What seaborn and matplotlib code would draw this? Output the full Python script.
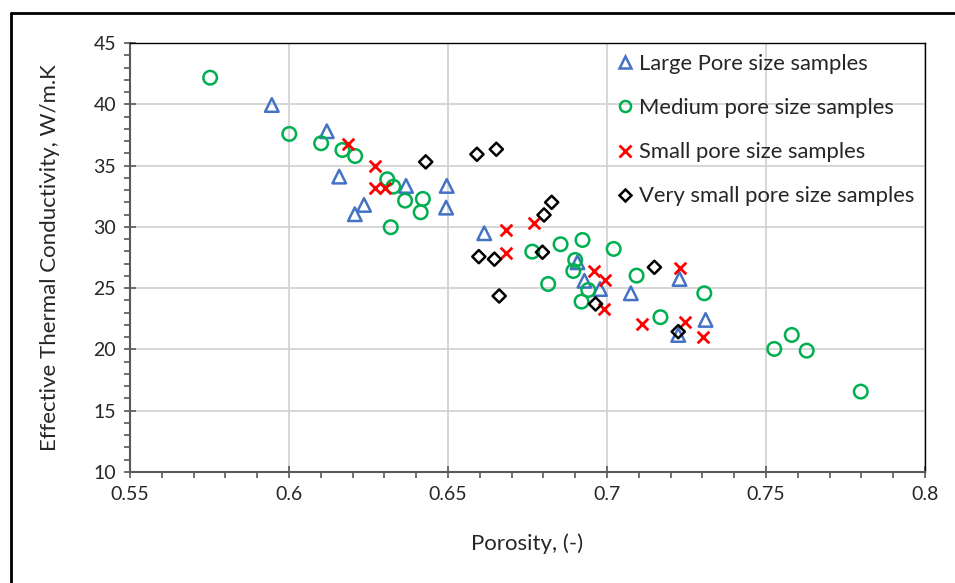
import matplotlib
matplotlib.use("Agg")
import matplotlib.pyplot as plt
import seaborn as sns
import pandas as pd
from matplotlib.lines import Line2D
from matplotlib.ticker import MultipleLocator

#### data
large_x = [0.5946, 0.6119, 0.6158, 0.6368, 0.6236, 0.6207, 0.6496, 0.6494, 0.6614, 0.6907,
           0.6929, 0.6978, 0.7228, 0.7075, 0.7310, 0.7224]
large_y = [39.94, 37.8, 34.1, 33.34, 31.79, 31.03, 33.34, 31.57, 29.48, 27.11,
           25.6, 24.93, 25.75, 24.58, 22.41, 21.18]

medium_x = [0.5752, 0.6001, 0.6101, 0.6168, 0.6208, 0.6309, 0.6328, 0.6365, 0.6421, 0.6414,
            0.6320, 0.6765, 0.6854, 0.6923, 0.7021, 0.6900, 0.6894, 0.6941, 0.6815, 0.6920,
            0.7093, 0.7306, 0.7168, 0.7526, 0.7581, 0.7628, 0.7798]
medium_y = [42.17, 37.58, 36.82, 36.27, 35.78, 33.88, 33.28, 32.14, 32.28, 31.19,
            29.97, 27.98, 28.58, 28.93, 28.2, 27.3, 26.4, 24.85, 25.34, 23.9,
            26.02, 24.58, 22.63, 20.04, 21.18, 19.9, 16.56]

small_x = [0.6186, 0.6271, 0.6271, 0.6302, 0.6771, 0.6683, 0.6683, 0.6959, 0.6993, 0.6991,
           0.7228, 0.7109, 0.7245, 0.7303]
small_y = [36.74, 34.97, 33.2, 33.15, 30.34, 29.75, 27.9, 26.43, 25.67, 23.3,
           26.62, 22.05, 22.27, 21.05]

vsmall_x = [0.6430, 0.6591, 0.6652, 0.6826, 0.6802, 0.6597, 0.6646, 0.6797, 0.6661, 0.6964,
            0.7149, 0.7224]
vsmall_y = [35.3, 35.92, 36.33, 32.0, 30.97, 27.57, 27.36, 27.93, 24.36, 23.71,
            26.7, 21.45]

labels = ["Large Pore size samples", "Medium pore size samples",
          "Small pore size samples", "Very small pore size samples"]

sns.set_style("white")
plt.rcParams['font.family'] = ['Lato', 'DejaVu Sans']

fig = plt.figure(figsize=(9.55, 5.83), dpi=100)
ax = fig.add_axes([130/955, 1-472/583, 795/955, 429/583])

groups = [
    (large_x, large_y, labels[0], "^", "#4472C4", 95),
    (medium_x, medium_y, labels[1], "o", "#00B050", 95),
    (small_x, small_y, labels[2], "x", "#FF0000", 70),
    (vsmall_x, vsmall_y, labels[3], "D", "black", 45),
]
handles = []
for xs, ys, lab, mk, col, sz in groups:
    df = pd.DataFrame({"x": xs, "y": ys})
    if mk == "x":
        sns.scatterplot(data=df, x="x", y="y", ax=ax, marker=mk, color=col, s=sz,
                        linewidth=2, zorder=3)
        h = Line2D([], [], ls="", marker=mk, color=col, markersize=8, mew=2)
    else:
        sns.scatterplot(data=df, x="x", y="y", ax=ax, marker=mk, facecolors="none",
                        edgecolor=col, s=sz, linewidth=1.8, zorder=3)
        h = Line2D([], [], ls="", marker=mk, markerfacecolor="none",
                   markeredgecolor=col, markersize=8 if mk != "D" else 6, mew=1.8)
    handles.append(h)

ax.set_xlim(0.55, 0.8)
ax.set_ylim(10, 45)
ax.xaxis.set_major_locator(MultipleLocator(0.05))
ax.xaxis.set_minor_locator(MultipleLocator(0.01))
ax.yaxis.set_major_locator(MultipleLocator(5))
ax.yaxis.set_minor_locator(MultipleLocator(1))
ax.set_xticks([0.55, 0.6, 0.65, 0.7, 0.75, 0.8])
ax.set_xticklabels(["0.55", "0.6", "0.65", "0.7", "0.75", "0.8"])
ax.grid(True, which="major", color="#d0d0d0", lw=1.2)
ax.set_axisbelow(True)

for s in ["left", "bottom"]:
    ax.spines[s].set_color("#595959")
    ax.spines[s].set_linewidth(1.5)
for s in ["top", "right"]:
    ax.spines[s].set_color("black")
    ax.spines[s].set_linewidth(1.0)
ax.tick_params(which="major", direction="inout", length=8, width=1.2, color="#595959",
               labelsize=14, labelcolor="#262626", pad=6)
ax.tick_params(which="minor", direction="out", length=4, width=1.2, color="#595959")
ax.tick_params(axis="x", which="both", bottom=True, top=False)
ax.tick_params(axis="y", which="both", left=True, right=False)

ax.set_xlabel("Porosity, (-)", fontsize=16, color="#262626", labelpad=22)
ax.set_ylabel("Effective Thermal Conductivity, W/m.K", fontsize=16, color="#262626", labelpad=24)

ax.legend(handles, labels, loc="upper right", frameon=False, fontsize=15.8,
          labelspacing=1.1, handletextpad=0.1, borderaxespad=0.1,
          handlelength=1.0, labelcolor="#262626")

# outer frame
fig.add_artist(Line2D([11/955, 11/955], [-0.1, 1-13/583], color="black", lw=2,
                      transform=fig.transFigure))
fig.add_artist(Line2D([11/955, 1.1], [1-13/583, 1-13/583], color="black", lw=2,
                      transform=fig.transFigure))

fig.savefig("out.png", dpi=100)
